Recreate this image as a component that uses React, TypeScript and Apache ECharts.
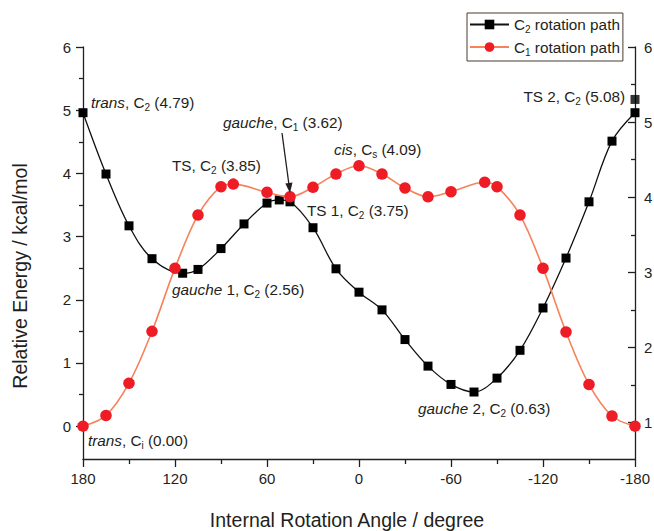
import React, { useEffect, useRef } from 'react';
import * as echarts from 'echarts';

// ---- data ----
const xTickValues = [180, 120, 60, 0, -60, -120, -180];
const leftTickValues = [0, 1, 2, 3, 4, 5, 6];
const leftMinorValues = [0.5, 1.5, 2.5, 3.5, 4.5, 5.5];
const rightTickValues = [1, 2, 3, 4, 5, 6];
const rightMinorValues = [1.5, 2.5, 3.5, 4.5, 5.5];

const c2Angles = [180, 165, 150, 135, 115, 105, 90, 75, 60, 52, 45, 30, 15, 0, -15, -30, -45, -60, -75, -90, -105, -120, -135, -150, -165, -180];
const c2Energy = [4.96, 3.99, 3.17, 2.65, 2.42, 2.48, 2.81, 3.2, 3.53, 3.58, 3.55, 3.14, 2.49, 2.12, 1.84, 1.37, 0.95, 0.66, 0.54, 0.76, 1.2, 1.87, 2.66, 3.55, 4.51, 4.96];
const c2ExtraAngles = [-180];
const c2ExtraEnergy = [5.17];

const c1Angles = [180, 165, 150, 135, 120, 105, 90, 82, 60, 45, 30, 15, 0, -15, -30, -45, -60, -82, -90, -105, -120, -135, -150, -165, -180];
const c1Energy = [0, 0.17, 0.68, 1.5, 2.5, 3.34, 3.79, 3.83, 3.7, 3.63, 3.78, 3.99, 4.12, 3.99, 3.77, 3.63, 3.71, 3.86, 3.79, 3.34, 2.5, 1.49, 0.66, 0.16, 0];

const seriesNames = ['C2 rotation path', 'C1 rotation path'];
const xAxisTitle = 'Internal Rotation Angle / degree';
const yAxisTitle = 'Relative Energy / kcal/mol';

const annotations = [
  { text: '{i|trans}{n|, C}{s|2}{n| (4.79)}', x: 91, y: 102, align: 'left' },
  { text: '{i|gauche}{n|, C}{s|1}{n| (3.62)}', x: 223, y: 122, align: 'left' },
  { text: '{n|TS, C}{s|2}{n| (3.85)}', x: 172, y: 165, align: 'left' },
  { text: '{i|cis}{n|, C}{s|s}{n| (4.09)}', x: 334, y: 149, align: 'left' },
  { text: '{n|TS 1, C}{s|2}{n| (3.75)}', x: 307, y: 210, align: 'left' },
  { text: '{i|gauche}{n| 1, C}{s|2}{n| (2.56)}', x: 172, y: 289, align: 'left' },
  { text: '{i|gauche}{n| 2, C}{s|2}{n| (0.63)}', x: 418, y: 408, align: 'left' },
  { text: '{n|TS 2, C}{s|2}{n| (5.08)}', x: 625, y: 96, align: 'right' },
  { text: '{i|trans}{n|, C}{s|i}{n| (0.00)}', x: 88, y: 440, align: 'left' },
];

const FONT = '"Liberation Sans", Arial, Helvetica, sans-serif';
const TXT = '#231f20';

const pairs = (xs: number[], ys: number[]) => xs.map((x, i) => [x, ys[i]]);

export default function App() {
  const ref = useRef<HTMLDivElement>(null);
  useEffect(() => {
    if (!ref.current) return;
    const chart = echarts.init(ref.current, undefined, { renderer: 'svg' });
    const rich = {
      n: { fontSize: 15.3, fontFamily: FONT, color: TXT },
      i: { fontSize: 15.3, fontFamily: FONT, color: TXT, fontStyle: 'italic' },
      s: { fontSize: 10, fontFamily: FONT, color: TXT, padding: [10, 0, 0, 0] },
    };
    const axisLine = { show: true, onZero: false, lineStyle: { color: TXT, width: 1.3 } };
    const noLine = { show: false, onZero: false };
    const option: any = {
      animation: false,
      backgroundColor: '#fff',
      grid: { left: 83, right: 19, top: 47, bottom: 72, containLabel: false, outerBoundsMode: 'none' },
      legend: {
        data: seriesNames,
        orient: 'vertical',
        left: 467,
        top: 13,
        borderColor: '#4a3a30',
        borderWidth: 1,
        padding: [4, 3, 4, 2],
        itemGap: 5,
        itemWidth: 39,
        itemHeight: 12,
        textStyle: {
          fontSize: 15.3,
          fontFamily: FONT,
          color: TXT,
          rich: { sub: { fontSize: 10, fontFamily: FONT, color: TXT, padding: [10, 0, 0, 0] } },
        },
        formatter: (name: string) => name.replace(/^C(\d)/, 'C{sub|$1}'),
      },
      xAxis: {
        type: 'value',
        min: -180,
        max: 180,
        interval: 60,
        inverse: true,
        name: xAxisTitle,
        nameLocation: 'middle',
        nameGap: 51,
        nameTextStyle: { fontSize: 19.5, fontFamily: FONT, color: TXT, padding: [0, 24, 0, 0] },
        axisLine,
        axisTick: { show: true, length: 8, lineStyle: { color: TXT, width: 1.3 } },
        minorTick: { show: true, splitNumber: 2, length: 5, lineStyle: { color: TXT, width: 1.3 } },
        axisLabel: { fontSize: 15, fontFamily: FONT, color: TXT, margin: 12, customValues: xTickValues },
        splitLine: { show: false },
      },
      yAxis: [
        {
          type: 'value',
          position: 'left',
          min: -0.52,
          max: 6,
          name: yAxisTitle,
          nameLocation: 'middle',
          nameGap: 53,
          nameTextStyle: { fontSize: 19.5, fontFamily: FONT, color: TXT, padding: [0, 46, 0, 0] },
          axisLine,
          axisTick: { show: true, length: 7, customValues: leftTickValues, lineStyle: { color: TXT, width: 1.3 } },
          axisLabel: {
            fontSize: 15, fontFamily: FONT, color: TXT, margin: 12, customValues: leftTickValues,
            formatter: (v: number) => (Number.isInteger(v) ? String(v) : ''),
          },
          splitLine: { show: false },
        },
        {
          type: 'value',
          position: 'left',
          offset: 0,
          min: -0.52,
          max: 6,
          axisLine: noLine,
          axisTick: { show: true, length: 4, customValues: leftMinorValues, lineStyle: { color: TXT, width: 1.3 } },
          axisLabel: { show: false },
          splitLine: { show: false },
        },
        {
          type: 'value',
          position: 'right',
          offset: 0,
          min: 0.516,
          max: 6,
          axisLine,
          axisTick: { show: true, inside: true, length: 7, customValues: rightTickValues, lineStyle: { color: TXT, width: 1.3 } },
          axisLabel: {
            fontSize: 15, fontFamily: FONT, color: TXT, margin: 9, customValues: rightTickValues,
            formatter: (v: number) => (Number.isInteger(v) ? String(v) : ''),
          },
          splitLine: { show: false },
        },
        {
          type: 'value',
          position: 'right',
          offset: 0,
          min: 0.516,
          max: 6,
          axisLine: noLine,
          axisTick: { show: true, inside: true, length: 4, customValues: rightMinorValues, lineStyle: { color: TXT, width: 1.3 } },
          axisLabel: { show: false },
          splitLine: { show: false },
        },
      ],
      series: [
        {
          name: seriesNames[0],
          type: 'line',
          yAxisIndex: 0,
          data: pairs(c2Angles, c2Energy),
          smooth: 0.35,
          symbol: 'rect',
          symbolSize: 9,
          itemStyle: { color: '#000' },
          lineStyle: { color: '#111', width: 1.3 },
          z: 2,
        },
        {
          name: 'C2 end',
          type: 'scatter',
          yAxisIndex: 0,
          data: pairs(c2ExtraAngles, c2ExtraEnergy),
          symbol: 'rect',
          symbolSize: 9,
          itemStyle: { color: '#000' },
          z: 2,
        },
        {
          name: seriesNames[1],
          type: 'line',
          yAxisIndex: 0,
          data: pairs(c1Angles, c1Energy),
          smooth: 0.35,
          symbol: 'circle',
          symbolSize: 11.5,
          itemStyle: { color: '#ee1c25' },
          lineStyle: { color: '#f5825a', width: 1.6 },
          z: 3,
        },
      ],
      graphic: [
        ...annotations.map((a) => ({
          type: 'text',
          x: a.x,
          y: a.y,
          z: 10,
          style: { text: a.text, rich, align: a.align, verticalAlign: 'middle', fill: TXT },
        })),
        {
          type: 'line',
          z: 10,
          shape: { x1: 282, y1: 133, x2: 289, y2: 185 },
          style: { stroke: TXT, lineWidth: 1.3 },
        },
        {
          type: 'polygon',
          z: 10,
          shape: { points: [[290, 193], [292.5, 182.6], [285.3, 183.6]] },
          style: { fill: TXT },
        },
      ],
    };
    chart.setOption(option);
    return () => chart.dispose();
  }, []);
  return (
    <div
      ref={ref}
      style={{ position: 'fixed', left: 0, top: 0, width: 654, height: 531, background: '#fff' }}
    />
  );
}
